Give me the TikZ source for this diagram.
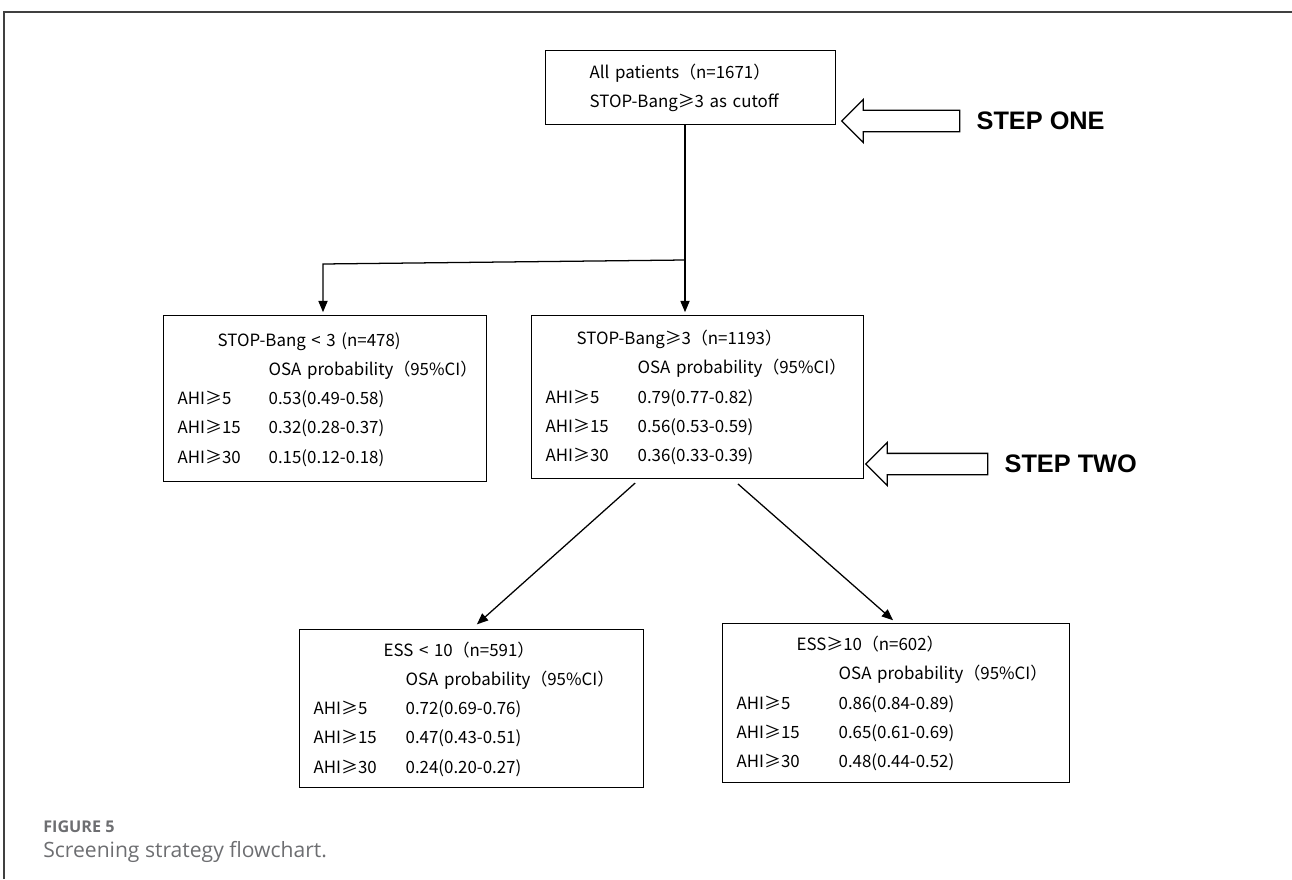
\documentclass[tikz,border=0pt]{standalone}
\usepackage{fontspec}
\setmainfont{Noto Sans CJK SC}
\newfontfamily\stepfont{Liberation Sans}
\newfontfamily\capfont{Open Sans}
\usetikzlibrary{calc,shapes.arrows,arrows.meta,positioning}
\definecolor{capgray}{HTML}{6D6E71}
\definecolor{framegray}{HTML}{404040}
\newcommand\boxfont{\fontsize{12}{20.8}\selectfont}
% indent, first column, header, three probabilities
\newcommand\osatab[6]{\begin{tabular}{@{}p{#2}@{}l@{}}
\multicolumn{2}{@{\hspace{#1}}l@{}}{#3}\\
 & OSA probability（95\%CI）\\
AHI≥5 & #4\\
AHI≥15 & #5\\
AHI≥30 & #6
\end{tabular}}
\tikzset{box/.style={draw, line width=0.9pt, rectangle, anchor=north west, inner xsep=0.35cm, inner ysep=0pt, align=left, font=\boxfont},
  flow/.style={line width=0.9pt, -{Triangle[length=8pt,width=6.5pt]}},
  hollow/.style={single arrow, draw, line width=0.9pt, shape border rotate=180, inner xsep=0pt, inner ysep=0.25cm, single arrow head extend=0.275cm},
  steplabel/.style={font=\stepfont\bfseries\fontsize{18}{18}\selectfont, inner sep=0pt, anchor=west}}

\begin{document}
\begin{tikzpicture}[x=0.025cm, y=-0.025cm]
    \useasboundingbox (0,0) rectangle (1292,879);
    \draw[framegray, line width=1.2pt] (4,879) -- (4,12) -- (1292,12);

    \node[box, inner xsep=1.1cm, text width=5.05cm, minimum width=7.25cm, minimum height=1.85cm] (all) at (545,50) {All patients（n=1671）\\STOP-Bang≥3 as cutoff};
    \node[box, text width=7.375cm, minimum height=4.15cm] (low) at (163,315) {\osatab{1cm}{2.275cm}{STOP-Bang < 3 (n=478)}{0.53(0.49-0.58)}{0.32(0.28-0.37)}{0.15(0.12-0.18)}};
    \node[box, text width=7.6cm, minimum height=4.075cm] (high) at (531,315) {\osatab{0.775cm}{2.3cm}{STOP-Bang≥3（n=1193）}{0.79(0.77-0.82)}{0.56(0.53-0.59)}{0.36(0.33-0.39)}};
    \node[box, text width=7.9cm, minimum height=3.95cm] (essl) at (299,629) {\osatab{1.75cm}{2.3cm}{ESS < 10（n=591）}{0.72(0.69-0.76)}{0.47(0.43-0.51)}{0.24(0.20-0.27)}};
    \node[box, text width=7.975cm, minimum height=3.975cm] (essh) at (722,623) {\osatab{1.5cm}{2.55cm}{ESS≥10（n=602）}{0.86(0.84-0.89)}{0.65(0.61-0.69)}{0.48(0.44-0.52)}};

    \node[hollow, minimum height=2.95cm] (arr1) at (906,121) {};
    \node[steplabel, right=0.4cm of arr1] (step1) {STEP ONE};
    \node[hollow, minimum height=3.05cm] (arr2) at (932,464) {};
    \node[steplabel, right=0.4cm of arr2] (step2) {STEP TWO};

    \coordinate (split) at (685,260);
    \coordinate (bend) at (323,264);
    \draw[flow, shorten >=2pt] (all.south -| split) -- (high.north -| split);
    \draw[flow, shorten >=2pt] (split) -- (bend) -- (bend |- low.north);
    \draw[flow, shorten <=4pt, shorten >=5pt] ($(high.south west)!0.325!(high.south east)$) -- (essl.north);
    \draw[flow, shorten <=5pt, shorten >=3pt] ($(high.south west)!0.605!(high.south east)$) -- (essh.north);

    \node[anchor=base west, inner sep=0pt, text=capgray, font=\capfont\bfseries\fontsize{11.5}{13}\selectfont] (figno) at (43,832) {FIGURE 5};
    \node[anchor=base west, inner sep=0pt, text=capgray, font=\capfont\fontsize{15}{18}\selectfont] (figcap) at (43,857) {Screening strategy flowchart.};
\end{tikzpicture}
\end{document}
